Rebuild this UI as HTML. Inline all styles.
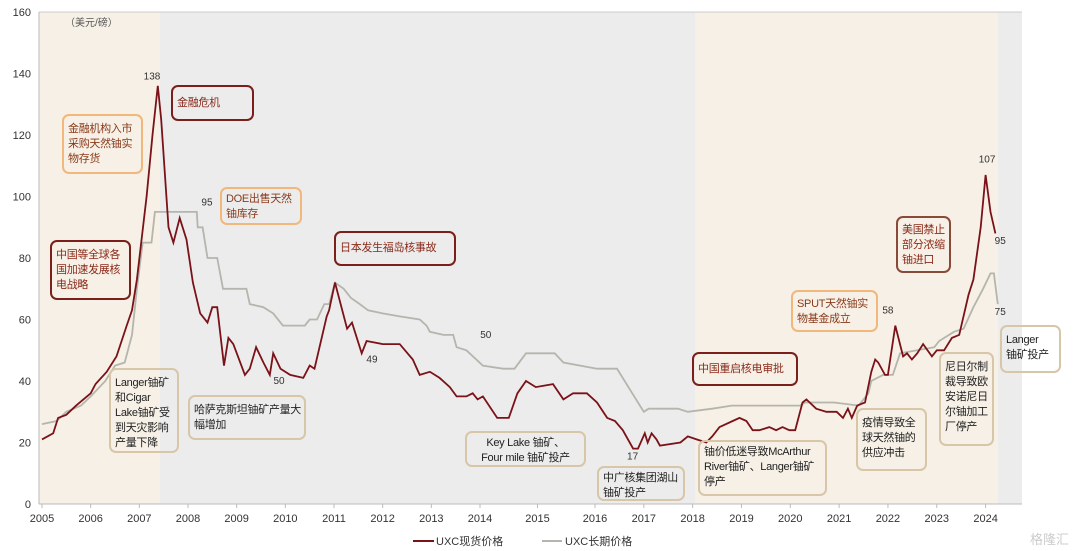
<!DOCTYPE html>
<html><head><meta charset="utf-8">
<style>
body{margin:0;background:#fff;width:1080px;height:551px;overflow:hidden;font-family:"Liberation Sans","Noto Sans CJK SC",sans-serif;}
.box{position:absolute;border:2px solid;border-radius:7px;font-size:11px;line-height:15px;padding:3px 4px;box-sizing:border-box;white-space:nowrap;letter-spacing:-0.3px;}
.m{border-color:#7a1f1a;color:#8b2a1a;}
.o{border-color:#f2b77a;color:#8b3a1a;}
.t{border-color:#d8c6a8;color:#222;}
</style></head><body>
<svg id="chart" width="1080" height="551" style="position:absolute;left:0;top:0" font-family="Liberation Sans, Noto Sans CJK SC, sans-serif"></svg>
<div class="box o" style="left:62px;top:114px;width:81px;height:60px;padding-top:6px;">金融机构入市<br>采购天然铀实<br>物存货</div>
<div class="box m" style="left:171px;top:85px;width:83px;height:36px;line-height:26px;">金融危机</div>
<div class="box o" style="left:220px;top:187px;width:82px;height:38px;">DOE出售天然<br>铀库存</div>
<div class="box m" style="left:334px;top:231px;width:122px;height:35px;line-height:25px;">日本发生福岛核事故</div>
<div class="box m" style="left:50px;top:240px;width:81px;height:60px;padding-top:6px;">中国等全球各<br>国加速发展核<br>电战略</div>
<div class="box t" style="left:109px;top:368px;width:70px;height:85px;padding-top:6px;">Langer铀矿<br>和Cigar<br>Lake铀矿受<br>到天灾影响<br>产量下降</div>
<div class="box t" style="left:188px;top:395px;width:118px;height:45px;padding-top:6px;">哈萨克斯坦铀矿产量大<br>幅增加</div>
<div class="box t" style="left:465px;top:431px;width:121px;height:36px;text-align:center;">Key Lake 铀矿、<br>Four mile 铀矿投产</div>
<div class="box t" style="left:597px;top:466px;width:88px;height:35px;">中广核集团湖山<br>铀矿投产</div>
<div class="box m" style="left:692px;top:352px;width:106px;height:34px;line-height:24px;">中国重启核电审批</div>
<div class="box t" style="left:698px;top:440px;width:129px;height:56px;">铀价低迷导致McArthur<br>River铀矿、Langer铀矿<br>停产</div>
<div class="box o" style="left:791px;top:290px;width:87px;height:42px;padding-top:5px;">SPUT天然铀实<br>物基金成立</div>
<div class="box t" style="left:856px;top:408px;width:71px;height:63px;padding-top:6px;">疫情导致全<br>球天然铀的<br>供应冲击</div>
<div class="box m" style="left:896px;top:216px;width:55px;height:57px;border-color:#8a4a3a;padding-top:5px;">美国禁止<br>部分浓缩<br>铀进口</div>
<div class="box t" style="left:939px;top:352px;width:55px;height:94px;padding-top:6px;">尼日尔制<br>裁导致欧<br>安诺尼日<br>尔铀加工<br>厂停产</div>
<div class="box t" style="left:1000px;top:325px;width:61px;height:48px;padding-top:6px;">Langer<br>铀矿投产</div>
<script>
const spotDates=[2005.0,2005.23,2005.33,2005.5,2005.7,2006.0,2006.1,2006.33,2006.53,2006.74,2006.85,2006.95,2007.15,2007.27,2007.38,2007.45,2007.6,2007.7,2007.83,2007.97,2008.1,2008.25,2008.4,2008.5,2008.6,2008.74,2008.83,2008.93,2009.17,2009.27,2009.4,2009.55,2009.68,2009.75,2009.9,2010.1,2010.37,2010.5,2010.6,2010.85,2010.9,2011.02,2011.27,2011.37,2011.57,2011.67,2012.0,2012.35,2012.62,2012.76,2012.97,2013.17,2013.38,2013.52,2013.72,2013.85,2013.95,2014.05,2014.3,2014.5,2014.65,2014.8,2014.97,2015.27,2015.45,2015.62,2015.86,2016.04,2016.25,2016.41,2016.57,2016.78,2016.88,2017.02,2017.08,2017.16,2017.26,2017.33,2017.75,2017.9,2018.08,2018.28,2018.4,2018.55,2018.82,2018.96,2019.1,2019.23,2019.37,2019.57,2019.71,2019.84,2019.98,2020.1,2020.25,2020.33,2020.53,2020.74,2020.95,2021.08,2021.18,2021.26,2021.37,2021.53,2021.66,2021.74,2021.8,2021.94,2022.0,2022.15,2022.31,2022.39,2022.49,2022.6,2022.72,2022.9,2023.0,2023.15,2023.31,2023.46,2023.65,2023.75,2023.9,2024.0,2024.1,2024.2];
const spotValues=[21,23,28,29,32,36,39,43,48,58,63,73,100,120,136,125,90,85,93,86,72,62,59,64,64,45,54,52,42,44,51,46,42,49,44,42,41,45,44,61,63,72,57,59,49,53,52,52,47,42,43,41,38,35,35,36,34,35,28,28,36,40,38,39,34,36,36,33,28,27,24,18,18,23,20,23,21,19,20,22,21,20,22,25,27,28,27,24,24,25,24,25,24,24,33,34,31,30,30,28,31,28,32,33,43,47,46,42,42,58,48,49,47,49,52,48,50,50,54,55,68,73,90,107,95,88];
const termDates=[2005.0,2005.3,2005.5,2005.8,2006.0,2006.3,2006.5,2006.7,2006.85,2006.95,2007.07,2007.25,2007.32,2008.18,2008.2,2008.3,2008.4,2008.6,2008.72,2009.2,2009.27,2009.55,2009.75,2009.95,2010.15,2010.4,2010.5,2010.65,2010.8,2010.9,2011.02,2011.2,2011.35,2011.53,2011.7,2012.0,2012.35,2012.76,2012.9,2012.97,2013.25,2013.45,2013.52,2013.72,2014.05,2014.4,2014.6,2014.8,2014.97,2015.3,2015.45,2016.04,2016.45,2016.92,2017.0,2017.1,2017.7,2017.9,2018.4,2018.8,2020.2,2020.3,2020.9,2021.4,2021.6,2021.66,2021.9,2022.1,2022.25,2022.95,2023.05,2023.35,2023.55,2023.75,2023.95,2024.1,2024.17,2024.25];
const termValues=[26,27,30,32,35,40,45,46,55,70,85,85,95,95,90,90,80,80,70,70,65,64,62,58,58,58,60,60,65,65,72,70,67,65,63,62,61,60,58,56,55,55,51,50,45,44,44,49,49,49,46,44,44,32,30,31,31,30,31,32,32,33,33,32,36,40,42,42,49,51,53,56,57,64,70,75,75,65];
const yTicks=[0,20,40,60,80,100,120,140,160];
const xTicks=[2005,2006,2007,2008,2009,2010,2011,2012,2013,2014,2015,2016,2017,2018,2019,2020,2021,2022,2023,2024];
const labelText=["138","95","50","49","50","17","58","107","95","75"];
const labelDates=[2007.26,2008.39,2009.87,2011.78,2014.1,2016.77,2022.0,2024.03,2024.3,2024.3];
const labelValues=[138,97,39,46,54,14.5,62,111,84.5,61.5];
const svg=document.getElementById('chart');
const NS='http://www.w3.org/2000/svg';
const kx=[2005,2014,2016,2024.5],px=[42,480,595,1010];
function x(t){for(let i=0;i<kx.length-1;i++){if(t<=kx[i+1]||i==kx.length-2){return px[i]+(t-kx[i])*(px[i+1]-px[i])/(kx[i+1]-kx[i]);}}}
function y(v){return 504-v*3.075;}
function el(tag,attrs){const e=document.createElementNS(NS,tag);for(const k in attrs)e.setAttribute(k,attrs[k]);svg.appendChild(e);return e;}
let r;
r=el('rect',{x:39,y:12,width:121,height:492,fill:'#f6f0e6'});


r=el('rect',{x:160,y:12,width:535,height:492,fill:'#ececec'});


r=el('rect',{x:695,y:12,width:303,height:492,fill:'#f6f0e6'});


r=el('rect',{x:998,y:12,width:24,height:492,fill:'#ececec'});


r=el('line',{x1:39,y1:12,x2:1022,y2:12,stroke:'#ccc'});


r=el('line',{x1:39,y1:12,x2:39,y2:504,stroke:'#bbb'});


r=el('line',{x1:39,y1:504,x2:1022,y2:504,stroke:'#bbb'});


yTicks.forEach(v=>{const t=el('text',{x:31,y:y(v)+4,'font-size':11,'text-anchor':'end',fill:'#333'});t.textContent=v;

});
xTicks.forEach(v=>{const l=el('line',{x1:x(v),y1:504,x2:x(v),y2:508,stroke:'#bbb'});


const t=el('text',{x:x(v),y:522,'font-size':11,'text-anchor':'middle',fill:'#333'});t.textContent=v;

});
let u=el('text',{x:65,y:26,'font-size':10,fill:'#555'});u.textContent='（美元/磅）';


function path(d,v){return d.map((t,i)=>(i?'L':'M')+x(t).toFixed(1)+','+y(v[i]).toFixed(1)).join('');}
let p=el('path',{d:path(termDates,termValues),fill:'none',stroke:'#b5b5ad','stroke-width':1.8});


p=el('path',{d:path(spotDates,spotValues),fill:'none',stroke:'#7a1218','stroke-width':1.8});


labelText.forEach((s,i)=>{const t=el('text',{x:x(labelDates[i]),y:y(labelValues[i]),'font-size':10,'text-anchor':'middle',fill:'#333'});t.textContent=s;

});
let g;
g=el('line',{x1:413,y1:541,x2:434,y2:541,stroke:'#7a1218','stroke-width':2});


g=el('text',{x:436,y:545,'font-size':11,fill:'#333'});g.textContent='UXC现货价格';


g=el('line',{x1:542,y1:541,x2:562,y2:541,stroke:'#b5b5ad','stroke-width':2});


g=el('text',{x:565,y:545,'font-size':11,fill:'#333'});g.textContent='UXC长期价格';


g=el('text',{x:1030,y:544,'font-size':13,fill:'#ccc'});g.textContent='格隆汇';


</script>
</body></html>
